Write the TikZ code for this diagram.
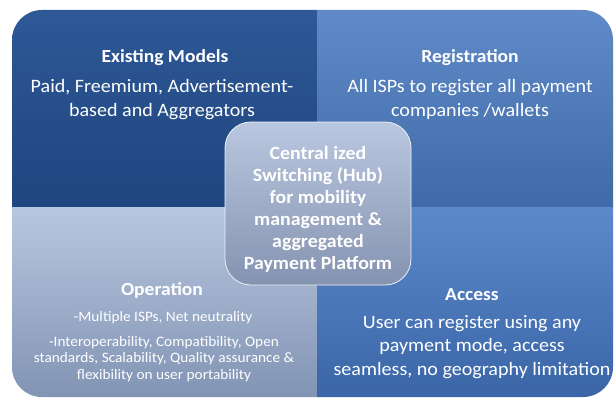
\documentclass[tikz,border=0pt]{standalone}
\usepackage{fontspec}
\setmainfont{Carlito}[FakeStretch=1.06]
\begin{document}
\begin{tikzpicture}[x=1bp,y=1bp,
  txt/.style={text=white,align=center,inner sep=0pt},
  head/.style={txt,font=\fontsize{18.5}{22}\selectfont\bfseries},
  body/.style={txt,font=\fontsize{19}{23.5}\selectfont},
  small/.style={txt,font=\fontsize{14.5}{16.8}\selectfont},
  hub/.style={txt,font=\fontsize{18.8}{22}\selectfont\bfseries}]
\definecolor{tlTop}{RGB}{46,88,150}
\definecolor{tlBot}{RGB}{30,70,127}
\definecolor{trTop}{RGB}{96,138,200}
\definecolor{trBot}{RGB}{63,106,168}
\definecolor{blTop}{RGB}{184,199,224}
\definecolor{blBot}{RGB}{130,148,180}
\definecolor{brTop}{RGB}{92,137,203}
\definecolor{brBot}{RGB}{58,102,168}
\definecolor{hubTop}{RGB}{186,199,224}
\definecolor{hubBot}{RGB}{132,147,176}
\useasboundingbox (0,0) rectangle (614,403);
\fill[white] (0,0) rectangle (614,403);
% four quadrants, clipped to the rounded outer frame
\begin{scope}
  \clip[rounded corners=30] (12,6) rectangle (613,393);
  \shade[top color=tlTop,bottom color=tlBot] (12,196) rectangle (317,393);
  \shade[top color=trTop,bottom color=trBot] (317,196) rectangle (613,393);
  \shade[top color=blTop,bottom color=blBot] (12,6) rectangle (317,196);
  \shade[top color=brTop,bottom color=brBot] (317,6) rectangle (613,196);
\end{scope}
% central hub
\shade[rounded corners=26,top color=hubTop,bottom color=hubBot,
       draw=white!75!blTop,line width=0.8]
  (225,118) rectangle (411,281);
\node[hub] (hubtext) at (318,193.5)
  {Central ized\\Switching (Hub)\\for mobility\\management \&\\aggregated\\Payment Platform};
% quadrant texts
\node[head] (tlhead) at (165,345) {Existing Models};
\node[body] (tlbody) at (162,303.5) {Paid, Freemium, Advertisement-\\based and Aggregators};
\node[head] (trhead) at (470,345) {Registration};
\node[body] (trbody) at (470,303.5) {All ISPs to register all payment\\companies /wallets};
\node[head] (blhead) at (162,113) {Operation};
\node[small] (blbody1) at (163,85) {-Multiple ISPs, Net neutrality};
\node[small] (blbody2) at (164,44) {-Interoperability, Compatibility, Open\\standards, Scalability, Quality assurance \&\\flexibility on user portability};
\node[head] (brhead) at (472,108) {Access};
\node[body] (brbody) at (472,56) {User can register using any\\payment mode, access\\seamless, no geography limitation};
\end{tikzpicture}
\end{document}
